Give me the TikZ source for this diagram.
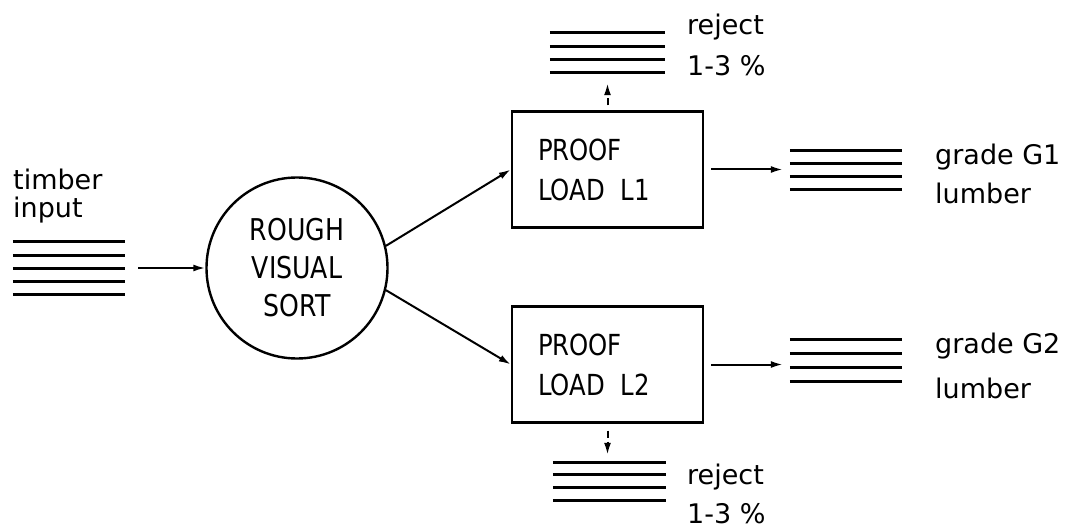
\documentclass[tikz,border=0pt]{standalone}
\usepackage{fontspec}
\setmainfont{DejaVu Sans}
\newfontfamily\capfont{DejaVu Sans}[FakeStretch=0.84]
\usetikzlibrary{arrows.meta}
\begin{document}
\begin{tikzpicture}[x=1pt,y=-1pt,
  flow/.style={line width=2pt,-{Latex[length=12pt,width=7pt]}},
  dflow/.style={flow,dash pattern=on 7pt off 4pt},
  board/.style={line width=3pt},
  stackbox/.style={inner sep=0pt,minimum width=#1},
  lbl/.style={inner sep=0pt,anchor=base west,font=\fontsize{27}{27}\selectfont},
  procbox/.style={draw,line width=2.4pt,minimum width=191pt,minimum height=116pt,
    align=left,text width=139pt,inner sep=0pt,font=\capfont\fontsize{29}{40}\selectfont},
  sortcircle/.style={draw,circle,line width=2.4pt,minimum size=181pt,inner sep=0pt,
    align=center,font=\capfont\fontsize{30}{38}\selectfont}
]
\fill[white] (0,0) rectangle (1075,529);
\useasboundingbox (0,0) rectangle (1075,529);

% process nodes
\node[sortcircle] (sort) at (297,268) {ROUGH\\VISUAL\\SORT};
\node[procbox] (L1) at (607.5,169.5) {PROOF\\LOAD\hspace{16pt}L1};
\node[procbox] (L2) at (607.5,364.5) {PROOF\\LOAD\hspace{16pt}L2};

% stacks of boards
\node[stackbox=112pt,minimum height=52pt] (timber) at (69,268) {};
\foreach \d in {-26,-13,0,13,26}
  \draw[board] ([yshift=\d pt]timber.west) -- ([yshift=\d pt]timber.east);

\node[stackbox=115pt,minimum height=40pt] (rej1) at (607.5,53) {};
\foreach \d in {-20,-6.67,6.67,20}
  \draw[board] ([yshift=\d pt]rej1.west) -- ([yshift=\d pt]rej1.east);

\node[stackbox=113pt,minimum height=38pt] (rej2) at (609.5,481) {};
\foreach \d in {-19,-6.33,6.33,19}
  \draw[board] ([yshift=\d pt]rej2.west) -- ([yshift=\d pt]rej2.east);

\node[stackbox=112pt,minimum height=39pt] (g1) at (846,170.5) {};
\foreach \d in {-19.5,-6.5,6.5,19.5}
  \draw[board] ([yshift=\d pt]g1.west) -- ([yshift=\d pt]g1.east);

\node[stackbox=112pt,minimum height=42pt] (g2) at (846,360) {};
\foreach \d in {-21,-7,7,21}
  \draw[board] ([yshift=\d pt]g2.west) -- ([yshift=\d pt]g2.east);

% flows
\draw[flow,shorten <=13pt] (timber.east) -- (sort.west);
\draw[flow] (sort.14) -- (L1.west);
\draw[flow] (sort.-14) -- (L2.west);
\draw[flow,shorten <=7pt,shorten >=7pt] (L1.east) -- (L1.east -| g1.west);
\draw[flow,shorten <=7pt,shorten >=7pt] (L2.east) -- (L2.east -| g2.west);
\draw[dflow,shorten <=5pt,shorten >=10pt] (L1.north) -- (L1.north |- rej1.south);
\draw[dflow,shorten <=7pt,shorten >=7pt] (L2.south) -- (L2.south |- rej2.north);

% labels
\node[lbl] (tin1) at (13,190) {timber};
\node[lbl] (tin2) at (13,218) {input};
\node[lbl] (r1a) at (687,35) {reject};
\node[lbl] (r1b) at (687,76) {1-3 \%};
\node[lbl] (r2a) at (687,484) {reject};
\node[lbl] (r2b) at (687,523) {1-3 \%};
\node[lbl] (g1a) at (935,165) {grade G1};
\node[lbl] (g1b) at (935,204) {lumber};
\node[lbl] (g2a) at (935,353) {grade G2};
\node[lbl] (g2b) at (935,398) {lumber};
\end{tikzpicture}
\end{document}
